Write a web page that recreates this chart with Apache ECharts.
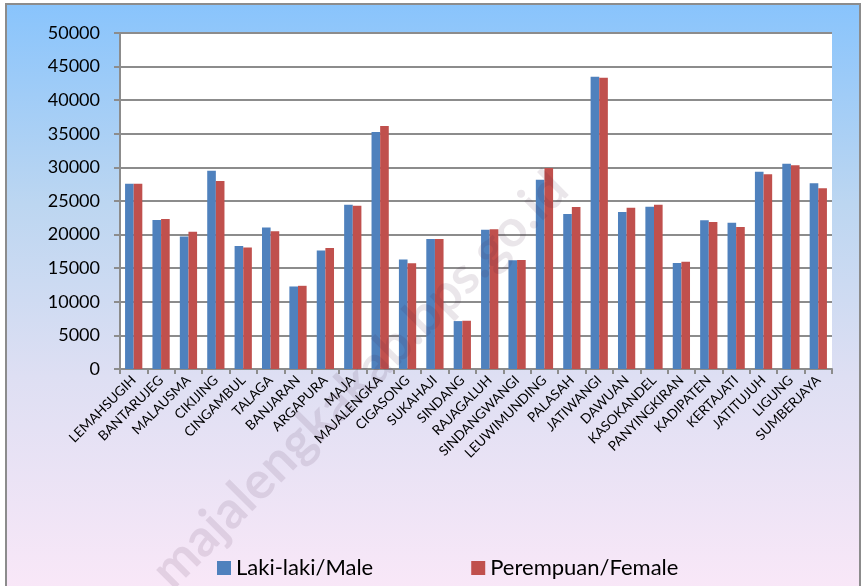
<!DOCTYPE html>
<html>
<head>
<meta charset="utf-8">
<script src="https://cdn.jsdelivr.net/npm/echarts@6/dist/echarts.min.js"></script>
<style>
html,body{margin:0;padding:0;background:#fff;width:863px;height:586px;overflow:hidden;}
#frame{position:absolute;left:5px;top:3px;width:852px;height:600px;border:2px solid #8c8c8c;
background:linear-gradient(to bottom,#89c4fc 0%,#bcd6f1 33%,#dedff3 62%,#fbe8f8 100%);}
#chart{position:absolute;left:0;top:0;width:863px;height:586px;}
</style>
</head>
<body>
<div id="frame"></div>
<div id="chart"></div>
<script>
var categories = ['LEMAHSUGIH','BANTARUJEG','MALAUSMA','CIKIJING','CINGAMBUL','TALAGA','BANJARAN','ARGAPURA','MAJA','MAJALENGKA','CIGASONG','SUKAHAJI','SINDANG','RAJAGALUH','SINDANGWANGI','LEUWIMUNDING','PALASAH','JATIWANGI','DAWUAN','KASOKANDEL','PANYINGKIRAN','KADIPATEN','KERTAJATI','JATITUJUH','LIGUNG','SUMBERJAYA'];
var male = [27550,22180,19700,29500,18320,21040,12280,17620,24450,35250,16290,19350,7130,20730,16170,28170,23060,43500,23360,24160,15770,22120,21770,29360,30550,27630];
var female = [27550,22320,20440,27970,18070,20490,12380,18020,24300,36150,15740,19350,7180,20780,16220,29910,24110,43350,24010,24450,15970,21870,21130,28970,30310,26880];
var yTicks = {min:0, max:50000, interval:5000};
var seriesNames = ['Laki-laki/Male','Perempuan/Female'];
var watermark = 'majalengkakab.bps.go.id';

var chart = echarts.init(document.getElementById('chart'), null, {renderer:'canvas'});
var font = 'Lato, "Open Sans", sans-serif';
chart.setOption({
  backgroundColor: 'transparent',
  animation: false,
  color: ['#4f81bd','#c0504d'],
  grid: {left:120, right:31, top:33, bottom:217, show:true, backgroundColor:'#ffffff', borderWidth:0},
  legend: {
    data: seriesNames, left: 212, top: 552, icon: 'rect', itemWidth: 14, itemHeight: 14, itemGap: 98,
    textStyle: {fontFamily: font, fontSize: 22, color: '#000'}
  },
  xAxis: {
    type: 'category', data: categories,
    axisLine: {lineStyle: {color:'#8c8c8c', width:2}},
    axisTick: {show:true, length:5, interval:0, lineStyle:{color:'#8c8c8c', width:2}},
    axisLabel: {interval:0, rotate:45, margin:9, fontFamily: font, fontSize: 13.5, color:'#000'}
  },
  yAxis: {
    type: 'value', min: yTicks.min, max: yTicks.max, interval: yTicks.interval,
    axisLine: {show:true, lineStyle:{color:'#8c8c8c', width:2}},
    axisTick: {show:true, length:6, lineStyle:{color:'#8c8c8c', width:2}},
    axisLabel: {margin:20, fontFamily: font, fontSize: 18, color:'#000', formatter: function(v){return String(v);}},
    splitLine: {lineStyle:{color:'#8c8c8c', width:2}}
  },
  series: [
    {name: seriesNames[0], type:'bar', data: male, barGap:'0%', barCategoryGap:'37%'},
    {name: seriesNames[1], type:'bar', data: female, barGap:'0%', barCategoryGap:'37%'}
  ],
  graphic: [{
    type:'text', x: 360, y: 380, rotation: Math.PI/4, z: 100,
    style: {text: watermark, fill:'rgba(60,30,60,0.11)', font: 'bold 52px ' + font, align:'center', verticalAlign:'middle'}
  }]
});
</script>
</body>
</html>
